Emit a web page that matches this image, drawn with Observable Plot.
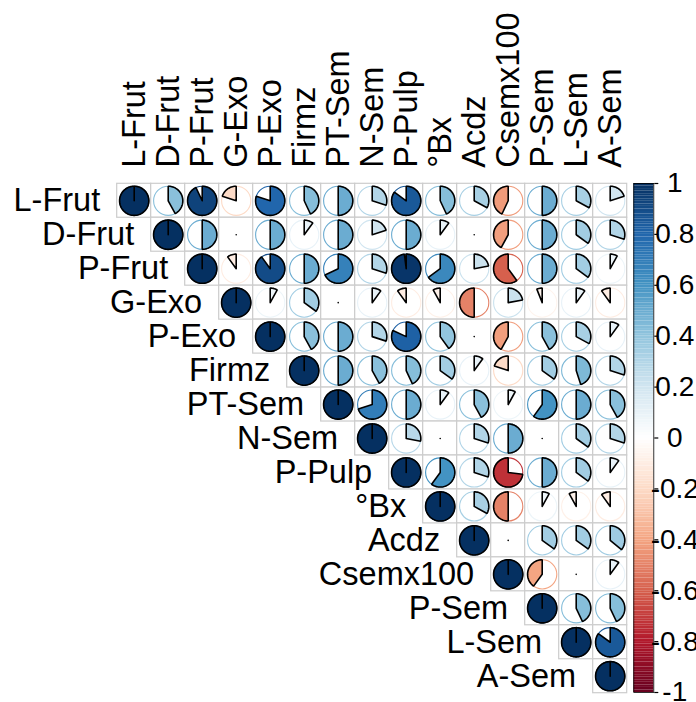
<!DOCTYPE html>
<html>
<head>
<meta charset="utf-8">
<script src="https://cdn.jsdelivr.net/npm/d3@7"></script>
<script src="https://cdn.jsdelivr.net/npm/@observablehq/plot@0.6"></script>
<style>
  html, body { margin: 0; padding: 0; background: #fff; }
  #wrap { position: relative; width: 696px; height: 702px; }
  #wrap svg { position: absolute; left: 0; top: 0; }
</style>
</head>
<body>
<div id="wrap"></div>
<script>
// Variables (row/column order)
const vars = ["L-Frut","D-Frut","P-Frut","G-Exo","P-Exo","Firmz","PT-Sem","N-Sem","P-Pulp","°Bx","Acdz","Csemx100","P-Sem","L-Sem","A-Sem"];

// Upper-triangle correlations, each row starts at the diagonal
const rowLFrut    = [1, 0.42, 0.93, -0.2, 0.8, 0.43, 0.5, 0.3, 0.85, 0.43, 0.33, -0.43, 0.5, 0.33, 0.2];
const rowDFrut    = [1, 0.5, 0, 0.5, 0.1, 0.5, 0.2, 0.5, 0.1, 0, -0.42, 0.5, 0.35, 0.3];
const rowPFrut    = [1, -0.1, 0.9, 0.5, 0.68, 0.3, 0.98, 0.65, 0.22, -0.6, 0.5, 0.35, 0.08];
const rowGExo     = [1, 0.08, 0.35, 0, 0.1, -0.1, -0.08, -0.5, 0.22, -0.06, 0.1, -0.1];
const rowPExo     = [1, 0.42, 0.5, 0.3, 0.82, 0.4, 0, -0.42, 0.42, 0.33, 0.1];
const rowFirmz    = [1, 0.5, 0.42, 0.43, 0.35, 0.1, -0.2, 0.35, 0.45, 0.3];
const rowPTSem    = [1, 0.7, 0.5, 0.1, 0.42, 0.08, 0.6, 0.5, 0.42];
const rowNSem     = [1, 0.28, 0, 0.3, 0.5, 0, 0.35, 0.3];
const rowPPulp    = [1, 0.6, 0.3, -0.73, 0.5, 0.35, 0.1];
const rowBx       = [1, 0.33, -0.5, 0.08, -0.08, -0.1];
const rowAcdz     = [1, 0, 0.35, 0.35, 0.36];
const rowCsem     = [1, -0.4, 0, 0.1];
const rowPSem     = [1, 0.43, 0.43];
const rowLSem     = [1, 0.85];
const rowASem     = [1];
const rows = [rowLFrut,rowDFrut,rowPFrut,rowGExo,rowPExo,rowFirmz,rowPTSem,rowNSem,rowPPulp,rowBx,rowAcdz,rowCsem,rowPSem,rowLSem,rowASem];

// Colour legend ticks
const legendTicks = [-1,-0.8,-0.6,-0.4,-0.2,0,0.2,0.4,0.6,0.8,1];

// RdBu palette (corrplot COL2)
const rdbu = ["#67001F","#B2182B","#D6604D","#F4A582","#FDDBC7","#FFFFFF","#D1E5F0","#92C5DE","#4393C3","#2166AC","#053061"];
const colorOf = d3.scaleLinear().domain(d3.range(11).map(i => -1 + i * 0.2)).range(rdbu).interpolate(d3.interpolateRgb).clamp(true);

// Cells
const cells = [];
rows.forEach((r, i) => r.forEach((v, k) => cells.push({i, j: i + k, v, id: i * 100 + i + k})));

// Pie polygons (geometry from values)
const R = 0.43;
const piePts = [];
for (const c of cells) {
  const theta = 2 * Math.PI * c.v;
  const n = Math.abs(c.v) < 0.005 ? 0 : Math.max(2, Math.ceil(100 * Math.abs(c.v)));
  piePts.push({id: c.id, x: c.j, y: c.i, v: c.v});
  for (let k = 0; k < n; k++) {
    const a = theta * k / (n - 1);
    piePts.push({id: c.id, x: c.j + R * Math.sin(a), y: c.i - R * Math.cos(a), v: c.v});
  }
  piePts.push({id: c.id, x: c.j, y: c.i, v: c.v});
}

const font = "'Liberation Sans', Arial, sans-serif";

const main = Plot.plot({
  width: 696, height: 702, margin: 0,
  style: {fontFamily: font, background: "transparent"},
  x: {type: "linear", domain: [-0.5, 14.5], range: [116.7, 626.7], axis: null},
  y: {type: "linear", domain: [-0.5, 14.5], range: [183.3, 692.7], axis: null},
  color: {type: "identity"},
  marks: [
    Plot.rect(cells, {x1: d => d.j - 0.5, x2: d => d.j + 0.5, y1: d => d.i - 0.5, y2: d => d.i + 0.5, fill: "white", stroke: "#CCCCCC", strokeWidth: 1.2}),
    Plot.dot(cells, {x: "j", y: "i", r: 14.6, fill: "none", stroke: d => colorOf(d.v), strokeWidth: 1.1}),
    Plot.line(piePts, {x: "x", y: "y", z: "id", fill: d => colorOf(d.v), stroke: "black", strokeWidth: 1.6, strokeLinejoin: "miter", strokeLinecap: "round"}),
    Plot.text(vars, {x: (d, i) => i - 0.5, y: (d, i) => i, text: d => d, textAnchor: "end", dx: -17, fontSize: 32.5, fill: "black"}),
    Plot.text(vars, {x: (d, i) => i, y: () => -0.5, text: d => d, rotate: -90, textAnchor: "start", dy: -16, fontSize: 32.5, fill: "black"})
  ]
});

// Colour bar
const bins = d3.range(200).map(k => ({lo: -1 + k * 0.01, hi: -1 + (k + 1) * 0.01}));
const fmt = d => String(Math.round(d * 10) / 10);
const bar = Plot.plot({
  width: 696, height: 702,
  marginLeft: 633.3, marginRight: 42.7, marginTop: 183, marginBottom: 10,
  style: {fontFamily: font, background: "transparent"},
  x: {domain: [0, 1], axis: null},
  y: {domain: [-1, 1], axis: null},
  color: {type: "identity"},
  marks: [
    Plot.rect(bins, {x1: () => 0, x2: () => 1, y1: "lo", y2: "hi", fill: d => colorOf((d.lo + d.hi) / 2)}),
    Plot.frame({stroke: "black", strokeWidth: 0.8}),
    Plot.axisY(legendTicks, {anchor: "right", tickSize: 4, tickPadding: 17, tickFormat: fmt, textAnchor: "middle", fontSize: 28, stroke: "black", fill: "black", strokeWidth: 1.2, label: null})
  ]
});

document.getElementById("wrap").append(main, bar);
</script>
</body>
</html>
